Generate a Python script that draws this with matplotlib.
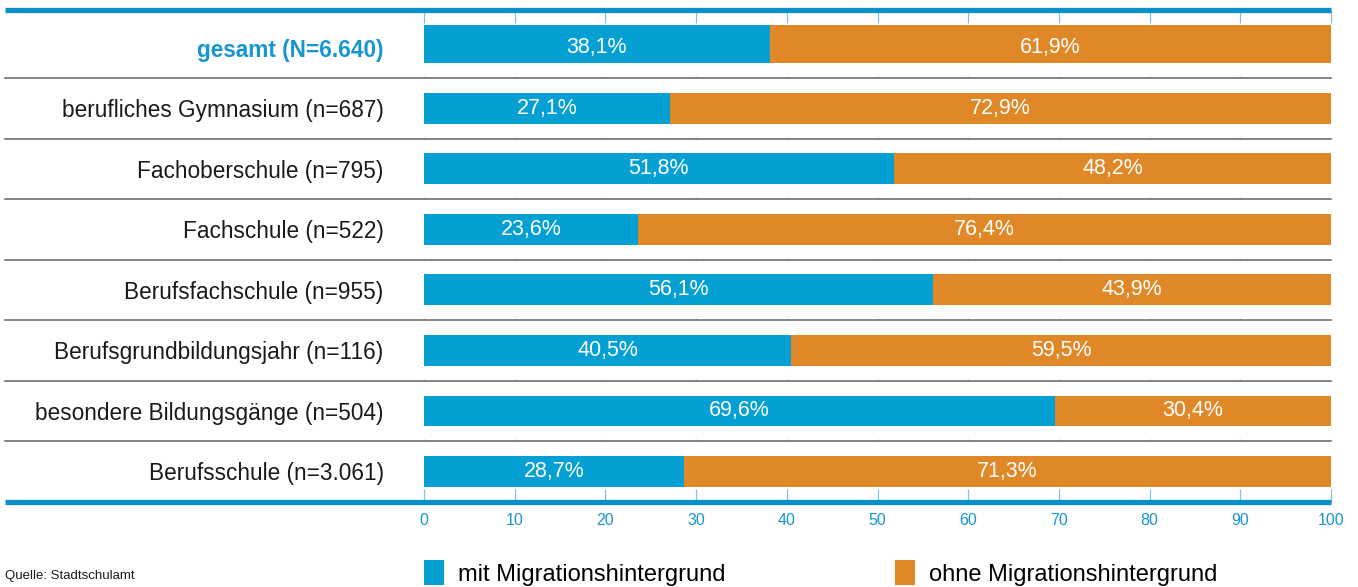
import matplotlib
matplotlib.use("Agg")
import matplotlib.pyplot as plt
from matplotlib.patches import Patch
from matplotlib import font_manager

categories = [
    "gesamt (N=6.640)",
    "berufliches Gymnasium (n=687)",
    "Fachoberschule (n=795)",
    "Fachschule (n=522)",
    "Berufsfachschule (n=955)",
    "Berufsgrundbildungsjahr (n=116)",
    "besondere Bildungsgänge (n=504)",
    "Berufsschule (n=3.061)",
]
mit = [38.1, 27.1, 51.8, 23.6, 56.1, 40.5, 69.6, 28.7]
ohne = [61.9, 72.9, 48.2, 76.4, 43.9, 59.5, 30.4, 71.3]
xticks = [0, 10, 20, 30, 40, 50, 60, 70, 80, 90, 100]
legend_labels = ["mit Migrationshintergrund", "ohne Migrationshintergrund"]
source = "Quelle: Stadtschulamt"

BLUE = "#04a0d3"
ORANGE = "#e08828"
LINEBLUE = "#0a8fc8"
TEXTBLUE = "#1796d0"
GREY = "#707070"

avail = {f.name for f in font_manager.fontManager.ttflist}
fam = ["Liberation Sans Narrow", "Liberation Sans", "DejaVu Sans"]
fam = [f for f in fam if f in avail] or ["DejaVu Sans"]
plt.rcParams["font.family"] = fam

W, H = 1358, 587
fig = plt.figure(figsize=(W / 100, H / 100), dpi=100)
left, right = 424 / W, 1331 / W
bot, top = 1 - 501.5 / H, 1 - 9.5 / H
ax = fig.add_axes([left, bot, right - left, top - bot])

n = len(categories)
ypos = list(range(n))
bh = 0.512
heights = [bh] * n
heights[0] = 0.628
ycent = list(ypos)
ycent[0] = ypos[0] + bh / 2 - heights[0] / 2

ax.barh(ycent, mit, height=heights, color=BLUE, zorder=3)
ax.barh(ycent, ohne, left=mit, height=heights, color=ORANGE, zorder=3)

for i in range(n):
    ax.text(mit[i] / 2, ypos[i], f"{mit[i]:.1f}%".replace(".", ","),
            ha="center", va="center", color="white", fontsize=15.5, zorder=4)
    ax.text(mit[i] + ohne[i] / 2, ypos[i], f"{ohne[i]:.1f}%".replace(".", ","),
            ha="center", va="center", color="white", fontsize=15.5, zorder=4)

ax.set_xlim(0, 100)
ax.set_ylim(7.496, -0.636)

ax.set_yticks(ypos)
ax.set_yticklabels(categories, fontsize=16.3)
for i, t in enumerate(ax.get_yticklabels()):
    if i == 0:
        t.set_color(TEXTBLUE)
        t.set_fontweight("bold")
    else:
        t.set_color("#1a1a1a")
ax.tick_params(axis="y", length=0, pad=29)

ax.set_xticks(xticks)
ax.set_xticklabels([str(x) for x in xticks], fontsize=11.5, color=TEXTBLUE)
ax.xaxis.set_ticks_position("both")
ax.tick_params(axis="x", direction="in", length=9.5, width=0.9,
               color="#7cc4e6", pad=8, labeltop=False)

for s in ax.spines.values():
    s.set_visible(False)

xstart = (5 - 424) / 907
tr = ax.get_yaxis_transform()
for i in range(n - 1):
    ax.plot([xstart, 1], [i + 0.5, i + 0.5], transform=tr, color=GREY,
            lw=1.2, clip_on=False, zorder=2)
for i in range(n - 1):
    ax.vlines(xticks, i + 0.5 - 0.03, i + 0.5, color="#c8c8c8", lw=0.8, zorder=1)

ax.plot([xstart, 1], [1, 1], transform=ax.transAxes, color=LINEBLUE, lw=3.8,
        clip_on=False, zorder=5, solid_capstyle="butt")
ax.plot([xstart, 1], [0, 0], transform=ax.transAxes, color=LINEBLUE, lw=3.8,
        clip_on=False, zorder=5, solid_capstyle="butt")

handles = [Patch(facecolor=BLUE, edgecolor="none"), Patch(facecolor=ORANGE, edgecolor="none")]
fig.legend(handles, legend_labels, loc="center left",
           bbox_to_anchor=(424 / W, 1 - 573 / H), ncol=2, frameon=False,
           fontsize=17, handlelength=0.85, handleheight=1.25, handletextpad=0.6,
           columnspacing=7.17, borderaxespad=0, borderpad=0)

fig.text(5 / W, 1 - 576 / H, source, fontsize=9.5, ha="left", va="center",
         color="#1a1a1a")

fig.savefig("out.png", dpi=100)
